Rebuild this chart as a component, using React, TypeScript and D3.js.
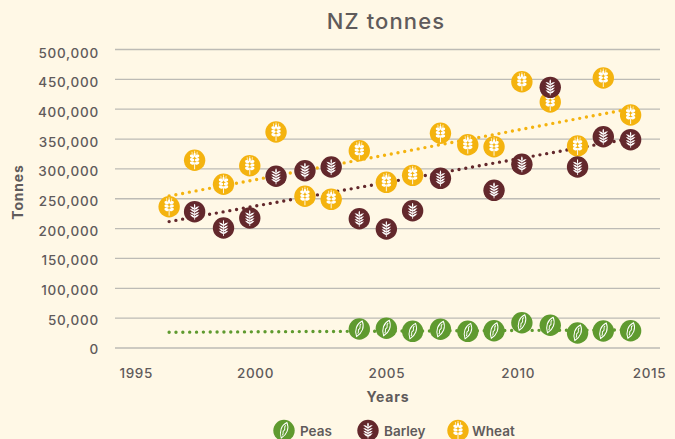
import { useEffect, useRef } from "react";
import * as d3 from "d3";

const wheatYears = [1996.73, 1997.7, 1998.8, 1999.8, 2000.8, 2001.9, 2002.9, 2003.97, 2005, 2006, 2007.06, 2008.1, 2009.1, 2010.16, 2011.24, 2012.28, 2013.26, 2014.3];
const wheatValues = [235800, 313600, 273400, 304500, 361000, 253300, 248200, 329600, 276700, 288400, 358800, 339700, 336300, 445200, 411200, 337500, 451400, 389400];

const barleyYears = [1997.7, 1998.8, 1999.8, 2000.8, 2001.9, 2002.9, 2003.97, 2005, 2006, 2007.06, 2009.1, 2010.16, 2011.24, 2012.28, 2013.26, 2014.3];
const barleyValues = [227500, 200200, 216900, 286800, 296100, 302300, 215700, 198500, 229100, 283400, 263300, 306900, 435800, 302300, 353100, 348100];

const peasYears = [2003.97, 2005, 2006, 2007.06, 2008.1, 2009.1, 2010.16, 2011.24, 2012.28, 2013.26, 2014.3];
const peasValues = [31000, 32200, 27100, 30500, 27100, 28100, 41500, 37200, 24300, 27600, 28100];

const trendYears = [1996.73, 2014.3];
const wheatTrend = [253800, 400000];
const barleyTrend = [210900, 350000];
const peasTrend = [25500, 29500];

const yTicks = [0, 50000, 100000, 150000, 200000, 250000, 300000, 350000, 400000, 450000, 500000];
const xTicks = [1995, 2000, 2005, 2010, 2015];
const legendNames = ["Peas", "Barley", "Wheat"];

const BG = "#fff8e6";
const INK = "#5f5b5b";
const GRID = "#bdbbb5";
const PEAS = "#5f9a2f";
const BARLEY = "#63282c";
const WHEAT = "#f4b30f";
const FONT = "Inter, 'Open Sans', sans-serif";

const WIDTH = 675;
const HEIGHT = 439;

const x = d3.scaleLinear().domain([1995, 2015]).range([123.7, 649]);
const y = d3.scaleLinear().domain([0, 500000]).range([347.5, 49]);

// white glyph drawn on top of each round marker
const drawGlyph = (g: any, kind: string) => {
  if (kind === "wheat") {
    g.append("path").attr("d", "M0,2V9").attr("stroke", "#fff").attr("stroke-width", 0.9);
    g.append("path").attr("d", "M-2.6,-8.5L-2.2,-4M2.6,-8.5L2.2,-4M0,-9.5V-4").attr("stroke", "#fff").attr("stroke-width", 0.7);
    [-4, -0.6, 2.8].forEach((dy) => {
      [-1, 1].forEach((s) => {
        g.append("ellipse")
          .attr("transform", `translate(${s * 2.5},${dy}) rotate(${s * -18})`)
          .attr("rx", 2.3).attr("ry", 1.55)
          .attr("fill", "#fff");
      });
    });
    g.append("ellipse").attr("cy", -5.6).attr("rx", 1.1).attr("ry", 2).attr("fill", "#fff");
  } else if (kind === "barley") {
    g.append("path").attr("d", "M0,-7.5V8").attr("stroke", "#fff").attr("stroke-width", 0.8);
    [-3.6, -0.8, 2, 4.6].forEach((dy) => {
      [-1, 1].forEach((s) => {
        g.append("path")
          .attr("d", `M0,${dy + 1.6}Q${s * 2.5},${dy + 1.4} ${s * 4.8},${dy - 1.8}Q${s * 2},${dy - 1.6} 0,${dy + 0.2}Z`)
          .attr("fill", "#fff");
      });
    });
    g.append("path").attr("d", "M0,-8Q1.5,-5.5 0,-3.5Q-1.5,-5.5 0,-8Z").attr("fill", "#fff");
  } else {
    const leaf = g.append("g").attr("transform", "rotate(20)");
    leaf.append("path")
      .attr("d", "M0,-8.5C4.4,-4 4.2,3 0,8C-4.2,3 -4.4,-4 0,-8.5Z")
      .attr("fill", "none").attr("stroke", "#fff").attr("stroke-width", 1);
    leaf.append("path")
      .attr("d", "M0,-5.5C-2.2,-3 1.8,-2 0,0C-2,1.6 1.6,3 0,5")
      .attr("fill", "none").attr("stroke", "#fff").attr("stroke-width", 1);
  }
};

const App = () => {
  const svgRef = useRef<SVGSVGElement>(null);

  useEffect(() => {
    const svg = d3.select(svgRef.current);
    svg.selectAll("*").remove();

    svg.append("rect").attr("width", WIDTH).attr("height", HEIGHT).attr("fill", BG);

    // y axis + grid
    const yAxis = d3.axisLeft(y)
      .tickValues(yTicks)
      .tickSize(-545)
      .tickPadding(16)
      .tickFormat((d: any) => d3.format(",")(d));
    const yG = svg.append("g").attr("transform", "translate(115,0)").call(yAxis as any);
    yG.select(".domain").remove();
    yG.selectAll(".tick line").attr("stroke", GRID).attr("stroke-width", 1.3);
    // labels sit a little lower than their grid lines, more so near the top
    yG.selectAll(".tick text")
      .attr("fill", INK).attr("font-family", FONT).attr("font-size", 13.5)
      .attr("font-weight", 500).attr("letter-spacing", 0.75)
      .attr("dy", "0.65em")
      .attr("y", (d: any) => -2.6 + (2 * d) / 500000);

    // x axis, no line, first label pushed inside the plot
    const xAxis = d3.axisBottom(x).tickValues(xTicks).tickSize(0).tickPadding(0).tickFormat(d3.format("d") as any);
    const xG = svg.append("g").attr("transform", "translate(0,367)").call(xAxis as any);
    xG.select(".domain").remove();
    xG.selectAll(".tick text")
      .attr("fill", INK).attr("font-family", FONT).attr("font-size", 13.5).attr("font-weight", 500)
      .attr("letter-spacing", 0.6)
      .attr("y", 0).attr("dy", "0.78em");
    xG.selectAll(".tick text").filter((d: any) => d === 1995).attr("dx", 12);

    svg.append("text")
      .attr("x", 386).attr("y", 29).attr("text-anchor", "middle")
      .attr("font-family", FONT).attr("font-size", 22).attr("font-weight", 500)
      .attr("letter-spacing", 1.1)
      .attr("fill", INK).text("NZ tonnes");

    svg.append("text")
      .attr("x", 388).attr("y", 402).attr("text-anchor", "middle")
      .attr("font-family", FONT).attr("font-size", 14).attr("font-weight", 700)
      .attr("letter-spacing", 0.8)
      .attr("fill", INK).text("Years");

    svg.append("text")
      .attr("transform", "translate(23,192) rotate(-90)").attr("text-anchor", "middle")
      .attr("font-family", FONT).attr("font-size", 14).attr("font-weight", 700)
      .attr("letter-spacing", 0.8)
      .attr("fill", INK).text("Tonnes");

    // dotted trend lines
    const line = d3.line<number>().x((_, i) => x(trendYears[i])).y((d) => y(d));
    [[peasTrend, PEAS], [barleyTrend, BARLEY], [wheatTrend, WHEAT]].forEach(([vals, color]: any) => {
      svg.append("path")
        .attr("d", line(vals))
        .attr("fill", "none").attr("stroke", color)
        .attr("stroke-width", 3.4).attr("stroke-linecap", "round")
        .attr("stroke-dasharray", "0 6.85");
    });

    const marks = (years: number[], values: number[], color: string, kind: string) => {
      const g = svg.append("g")
        .selectAll("g")
        .data(years.map((yr, i) => ({ yr, v: values[i] })))
        .join("g")
        .attr("transform", (d) => `translate(${x(d.yr)},${y(d.v)})`);
      g.append("circle").attr("r", 10.7).attr("fill", color);
      g.each(function () {
        drawGlyph(d3.select(this), kind);
      });
    };

    marks(peasYears, peasValues, PEAS, "peas");
    marks(wheatYears, wheatValues, WHEAT, "wheat");
    marks(barleyYears, barleyValues, BARLEY, "barley");

    // legend
    const legendX = d3.scaleOrdinal<string, number>().domain(legendNames).range([284, 368, 458]);
    const legendColors = d3.scaleOrdinal<string>().domain(legendNames).range([PEAS, BARLEY, WHEAT]);
    const items = svg.append("g")
      .selectAll("g")
      .data(legendNames)
      .join("g")
      .attr("transform", (d) => `translate(${legendX(d)},430.5)`);
    items.append("circle").attr("r", 10.7).attr("fill", (d) => legendColors(d));
    items.each(function (d) {
      drawGlyph(d3.select(this), d.toLowerCase());
    });
    items.append("text")
      .attr("x", (d) => (d === "Wheat" ? 14 : 16)).attr("y", 5)
      .attr("font-family", FONT).attr("font-size", 13.5).attr("font-weight", 600)
      .attr("fill", INK).text((d) => d);
  }, []);

  return (
    <svg
      ref={svgRef}
      width={WIDTH}
      height={HEIGHT}
      style={{ position: "absolute", left: 0, top: 0, display: "block" }}
    />
  );
};

export default App;
